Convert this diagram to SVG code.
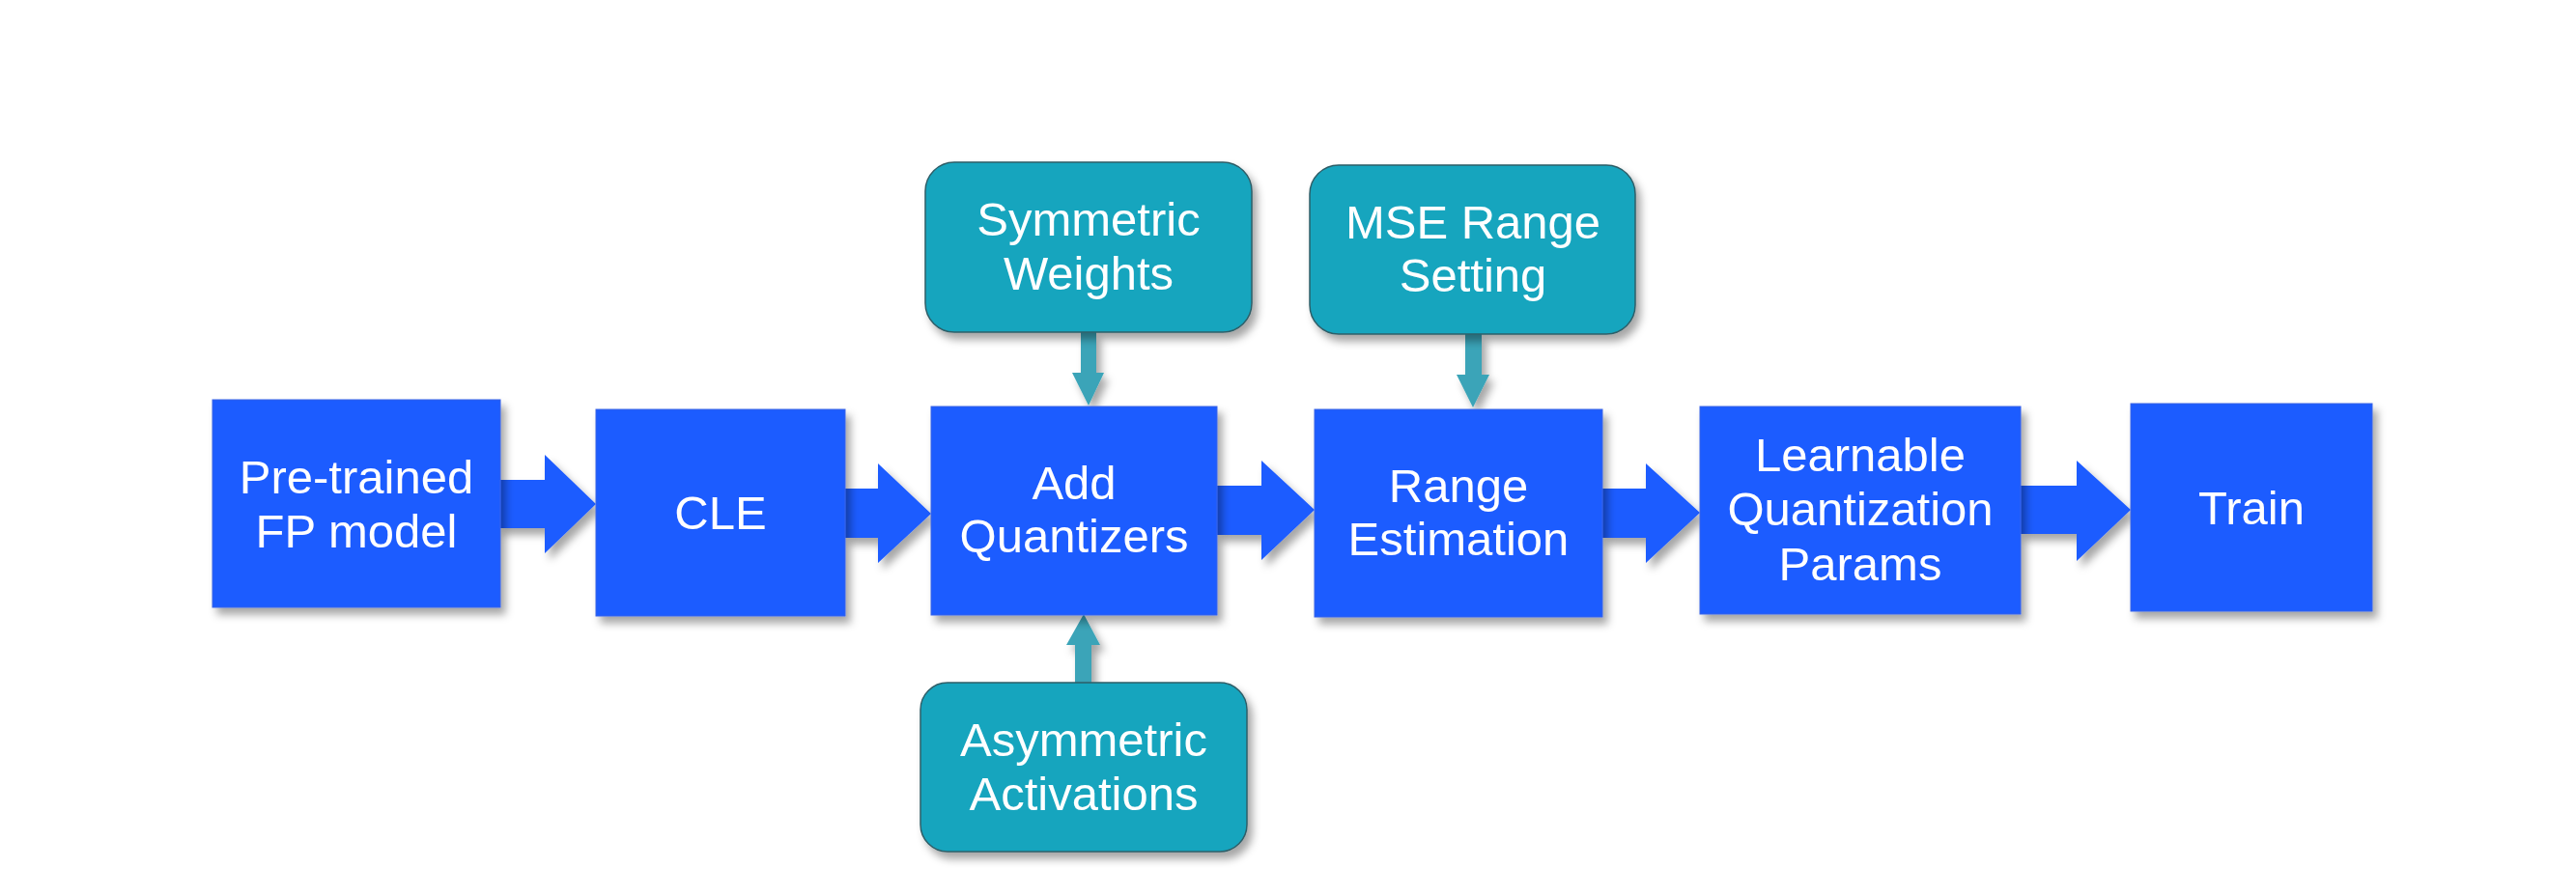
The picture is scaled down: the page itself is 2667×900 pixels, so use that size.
<svg xmlns="http://www.w3.org/2000/svg" width="2667" height="900" viewBox="0 0 2667 900">
<style>
.blue{fill:#1F5BFF;stroke:#3A62E6;stroke-width:1}
.teal{fill:#17A5BE;stroke:#2F5E68;stroke-width:1.5}
.barrow{fill:#1F5BFF}
.tarrow{fill:#3BA4B8}
.lbl{font-family:"Liberation Sans",Arial,sans-serif;font-size:49px;fill:#FFFFFF;text-anchor:middle}
</style>
<defs>
<filter id="sh" x="-10%" y="-10%" width="130%" height="140%">
<feDropShadow dx="5" dy="7" stdDeviation="4" flood-color="#000" flood-opacity="0.35"/>
</filter>
</defs>
<rect width="2667" height="900" fill="#FFFFFF"/>
<g id="connectors" filter="url(#sh)">
<polygon class="barrow" points="516,497 564,497 564,471 617,522 564,573 564,547 516,547"/>
<polygon class="barrow" points="874,506 909,506 909,480 964,532 909,583 909,557 874,557"/>
<polygon class="barrow" points="1259,503 1306,503 1306,477 1361,528 1306,580 1306,554 1259,554"/>
<polygon class="barrow" points="1658,506 1704,506 1704,480 1760,531 1704,583 1704,557 1658,557"/>
<polygon class="barrow" points="2091,503 2150,503 2150,477 2206,528 2150,581 2150,553 2091,553"/>
<polygon class="tarrow" points="1119,344 1135,344 1135,386 1143,386 1127,420 1110,386 1119,386"/>
<polygon class="tarrow" points="1517,346 1534,346 1534,388 1542,388 1525,422 1508,388 1517,388"/>
<polygon class="tarrow" points="1113,707 1130,707 1130,668 1139,668 1122,636 1104,668 1113,668"/>
</g>
<g id="pretrained" filter="url(#sh)">
<rect class="blue" x="220" y="414" width="298" height="215"/>
<text class="lbl" x="369" y="511">Pre-trained</text>
<text class="lbl" x="369" y="567">FP model</text>
</g>
<g id="cle" filter="url(#sh)">
<rect class="blue" x="617" y="424" width="258" height="214"/>
<text class="lbl" x="746" y="548">CLE</text>
</g>
<g id="addq" filter="url(#sh)">
<rect class="blue" x="964" y="421" width="296" height="216"/>
<text class="lbl" x="1112" y="517">Add</text>
<text class="lbl" x="1112" y="572">Quantizers</text>
</g>
<g id="range" filter="url(#sh)">
<rect class="blue" x="1361" y="424" width="298" height="215"/>
<text class="lbl" x="1510" y="520">Range</text>
<text class="lbl" x="1510" y="575">Estimation</text>
</g>
<g id="learnable" filter="url(#sh)">
<rect class="blue" x="1760" y="421" width="332" height="215"/>
<text class="lbl" x="1926" y="488">Learnable</text>
<text class="lbl" x="1926" y="544">Quantization</text>
<text class="lbl" x="1926" y="601">Params</text>
</g>
<g id="train" filter="url(#sh)">
<rect class="blue" x="2206" y="418" width="250" height="215"/>
<text class="lbl" x="2331" y="543">Train</text>
</g>
<g id="symw" filter="url(#sh)">
<rect class="teal" x="958" y="168" width="338" height="176" rx="30" ry="30"/>
<text class="lbl" x="1127" y="244">Symmetric</text>
<text class="lbl" x="1127" y="300">Weights</text>
</g>
<g id="mse" filter="url(#sh)">
<rect class="teal" x="1356" y="171" width="337" height="175" rx="30" ry="30"/>
<text class="lbl" x="1525" y="247">MSE Range</text>
<text class="lbl" x="1525" y="302">Setting</text>
</g>
<g id="asym" filter="url(#sh)">
<rect class="teal" x="953" y="707" width="338" height="175" rx="28" ry="28"/>
<text class="lbl" x="1122" y="783">Asymmetric</text>
<text class="lbl" x="1122" y="839">Activations</text>
</g>
</svg>
